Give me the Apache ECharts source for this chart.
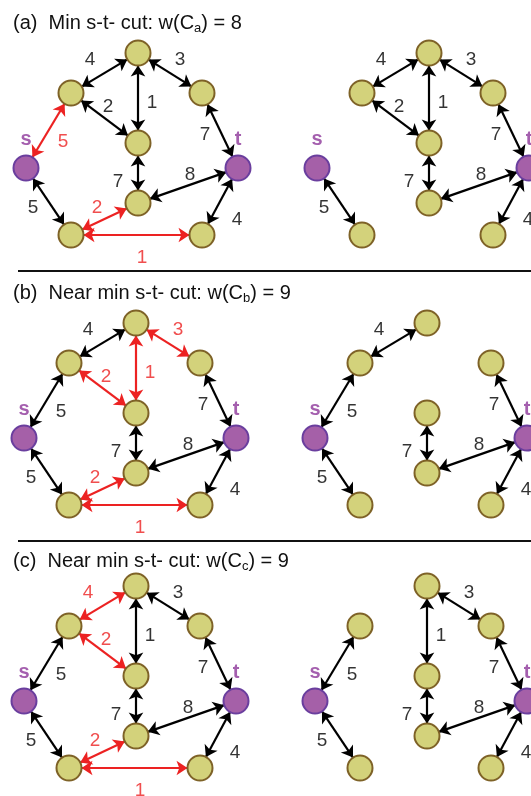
<!DOCTYPE html>
<html>
<head>
<meta charset="utf-8">
<script src="https://cdn.jsdelivr.net/npm/echarts@6/dist/echarts.min.js"></script>
<style>
  html, body { margin: 0; padding: 0; background: #fff; }
  #chart { width: 531px; height: 796px; }
</style>
</head>
<body>
<div id="chart"></div>
<script>
// Network: nodes and weighted bidirectional edges
const nodeNames = ['s', 't', 'top', 'ul', 'ur', 'mid', 'lm', 'bl', 'br'];
const edgeFrom   = ['s',  's',  'ul',  'top', 'top', 'ul',  'ur', 'mid', 'lm', 'lm', 'bl', 'br'];
const edgeTo     = ['ul', 'bl', 'top', 'ur',  'mid', 'mid', 't',  'lm',  't',  'bl', 'br', 't'];
const edgeWeight = [5,    5,    4,     3,     1,     2,     7,    7,     8,    2,    1,    4];

// Edges removed by each cut (panel a, b, c)
const panelLetters = ['a', 'b', 'c'];
const panelCaptions = ['Min s-t- cut', 'Near min s-t- cut', 'Near min s-t- cut'];
const cutEdgesA = ['s-ul', 'lm-bl', 'bl-br'];
const cutEdgesB = ['top-ur', 'top-mid', 'ul-mid', 'lm-bl', 'bl-br'];
const cutEdgesC = ['ul-top', 'ul-mid', 'lm-bl', 'bl-br'];
const cutSets = [cutEdgesA, cutEdgesB, cutEdgesC];

// ---- drawing layout (kept apart from the data above) ----
const layoutX = { s: 26, t: 238, top: 138, ul: 71, ur: 202, mid: 138, lm: 138, bl: 71, br: 202 };
const layoutY = { s: 168, t: 168, top: 53, ul: 93, ur: 93, mid: 143, lm: 203, bl: 235, br: 235 };
// weight label nudges from the edge midpoint, in edge order
const labelNudge = [
  [14.5, 11.5], [-15.5, 6.5], [-14.5, -13], [10, -13], [14, 5], [3.5, -11],
  [-15, 4.5], [-20, 9], [2, -10.5], [-7.5, -11], [5.5, 23], [17, 18.5]
];
const panelLeft = [[0, 291], [-2, 289], [-2, 289]];
const panelTop = [0, 270, 533];
const titleTop = [11, 281, 549];
const PANEL_W = 240;
const PANEL_H = 270;

const RED = '#ec2222';
const BLACK = '#000';
const NODE_FILL = '#d3d27b';
const NODE_BORDER = '#7e6227';
const ST_FILL = '#a560a8';
const ST_BORDER = '#6a3e9e';
const ST_TEXT = '#a45fae';
const FONT = '"Liberation Sans", Arial, sans-serif';

function isCut(i, cut) {
  const k1 = edgeFrom[i] + '-' + edgeTo[i];
  const k2 = edgeTo[i] + '-' + edgeFrom[i];
  return cut.indexOf(k1) >= 0 || cut.indexOf(k2) >= 0;
}

const grids = [], xAxes = [], yAxes = [], series = [], titles = [];

panelLetters.forEach(function (letter, p) {
  const cut = cutSets[p];
  const cutWeight = edgeWeight.reduce(function (acc, w, i) { return acc + (isCut(i, cut) ? w : 0); }, 0);
  titles.push({
    left: 13, top: titleTop[p], padding: 0,
    text: '(' + letter + ')  ' + panelCaptions[p] + ': w(C{sub|' + letter + '}) = ' + cutWeight,
    textStyle: {
      fontFamily: FONT, fontSize: 20, fontWeight: 'normal', color: '#111', lineHeight: 24,
      rich: { sub: { fontFamily: FONT, fontSize: 13, color: '#111', verticalAlign: 'bottom', lineHeight: 24 } }
    }
  });

  [0, 1].forEach(function (side) {
    const g = grids.length;
    grids.push({ left: panelLeft[p][side], top: panelTop[p], width: PANEL_W, height: PANEL_H, containLabel: false, outerBoundsMode: 'none' });
    xAxes.push({ gridIndex: g, type: 'value', min: 0, max: PANEL_W, show: false });
    yAxes.push({ gridIndex: g, type: 'value', min: 0, max: PANEL_H, inverse: true, show: false });

    const shown = [];
    edgeWeight.forEach(function (w, i) {
      if (side === 0 || !isCut(i, cut)) shown.push(i);
    });

    series.push({
      type: 'graph', coordinateSystem: 'cartesian2d', xAxisIndex: g, yAxisIndex: g,
      silent: true, animation: false,
      symbol: 'circle', symbolSize: 25,
      edgeSymbol: ['arrow', 'arrow'], edgeSymbolSize: [11, 11],
      lineStyle: { width: 2.2, color: BLACK, opacity: 1, curveness: 0 },
      emphasis: { disabled: true },
      data: nodeNames.map(function (n) {
        const term = (n === 's' || n === 't');
        return {
          name: n,
          value: [layoutX[n], layoutY[n]],
          itemStyle: { color: term ? ST_FILL : NODE_FILL, borderColor: term ? ST_BORDER : NODE_BORDER, borderWidth: 2 },
          label: {
            show: term, position: 'top', distance: 5, formatter: n,
            fontFamily: FONT, fontSize: 20, fontWeight: 'bold', color: ST_TEXT
          }
        };
      }),
      links: shown.map(function (i) {
        const red = side === 0 && isCut(i, cut);
        return { source: edgeFrom[i], target: edgeTo[i], value: edgeWeight[i], lineStyle: { color: red ? RED : BLACK } };
      })
    });

    series.push({
      type: 'scatter', xAxisIndex: g, yAxisIndex: g, silent: true, animation: false, clip: false,
      symbol: 'circle', symbolSize: 1, itemStyle: { color: 'rgba(0,0,0,0)' },
      data: shown.map(function (i) {
        const mx = (layoutX[edgeFrom[i]] + layoutX[edgeTo[i]]) / 2 + labelNudge[i][0];
        const my = (layoutY[edgeFrom[i]] + layoutY[edgeTo[i]]) / 2 + labelNudge[i][1];
        const red = side === 0 && isCut(i, cut);
        return {
          value: [mx, my, edgeWeight[i]],
          label: { color: red ? RED : BLACK }
        };
      }),
      label: {
        show: true, position: 'inside',
        formatter: function (d) { return String(d.value[2]); },
        fontFamily: FONT, fontSize: 19, textBorderWidth: 0
      }
    });
  });
});

const chart = echarts.init(document.getElementById('chart'), null, { renderer: 'canvas' });
chart.setOption({
  backgroundColor: '#fff',
  animation: false,
  title: titles,
  grid: grids,
  xAxis: xAxes,
  yAxis: yAxes,
  series: series,
  graphic: [
    { type: 'line', shape: { x1: 18, y1: 271, x2: 531, y2: 271 }, style: { stroke: '#111', lineWidth: 2 } },
    { type: 'line', shape: { x1: 18, y1: 541, x2: 531, y2: 541 }, style: { stroke: '#111', lineWidth: 2 } }
  ]
});
</script>
</body>
</html>
